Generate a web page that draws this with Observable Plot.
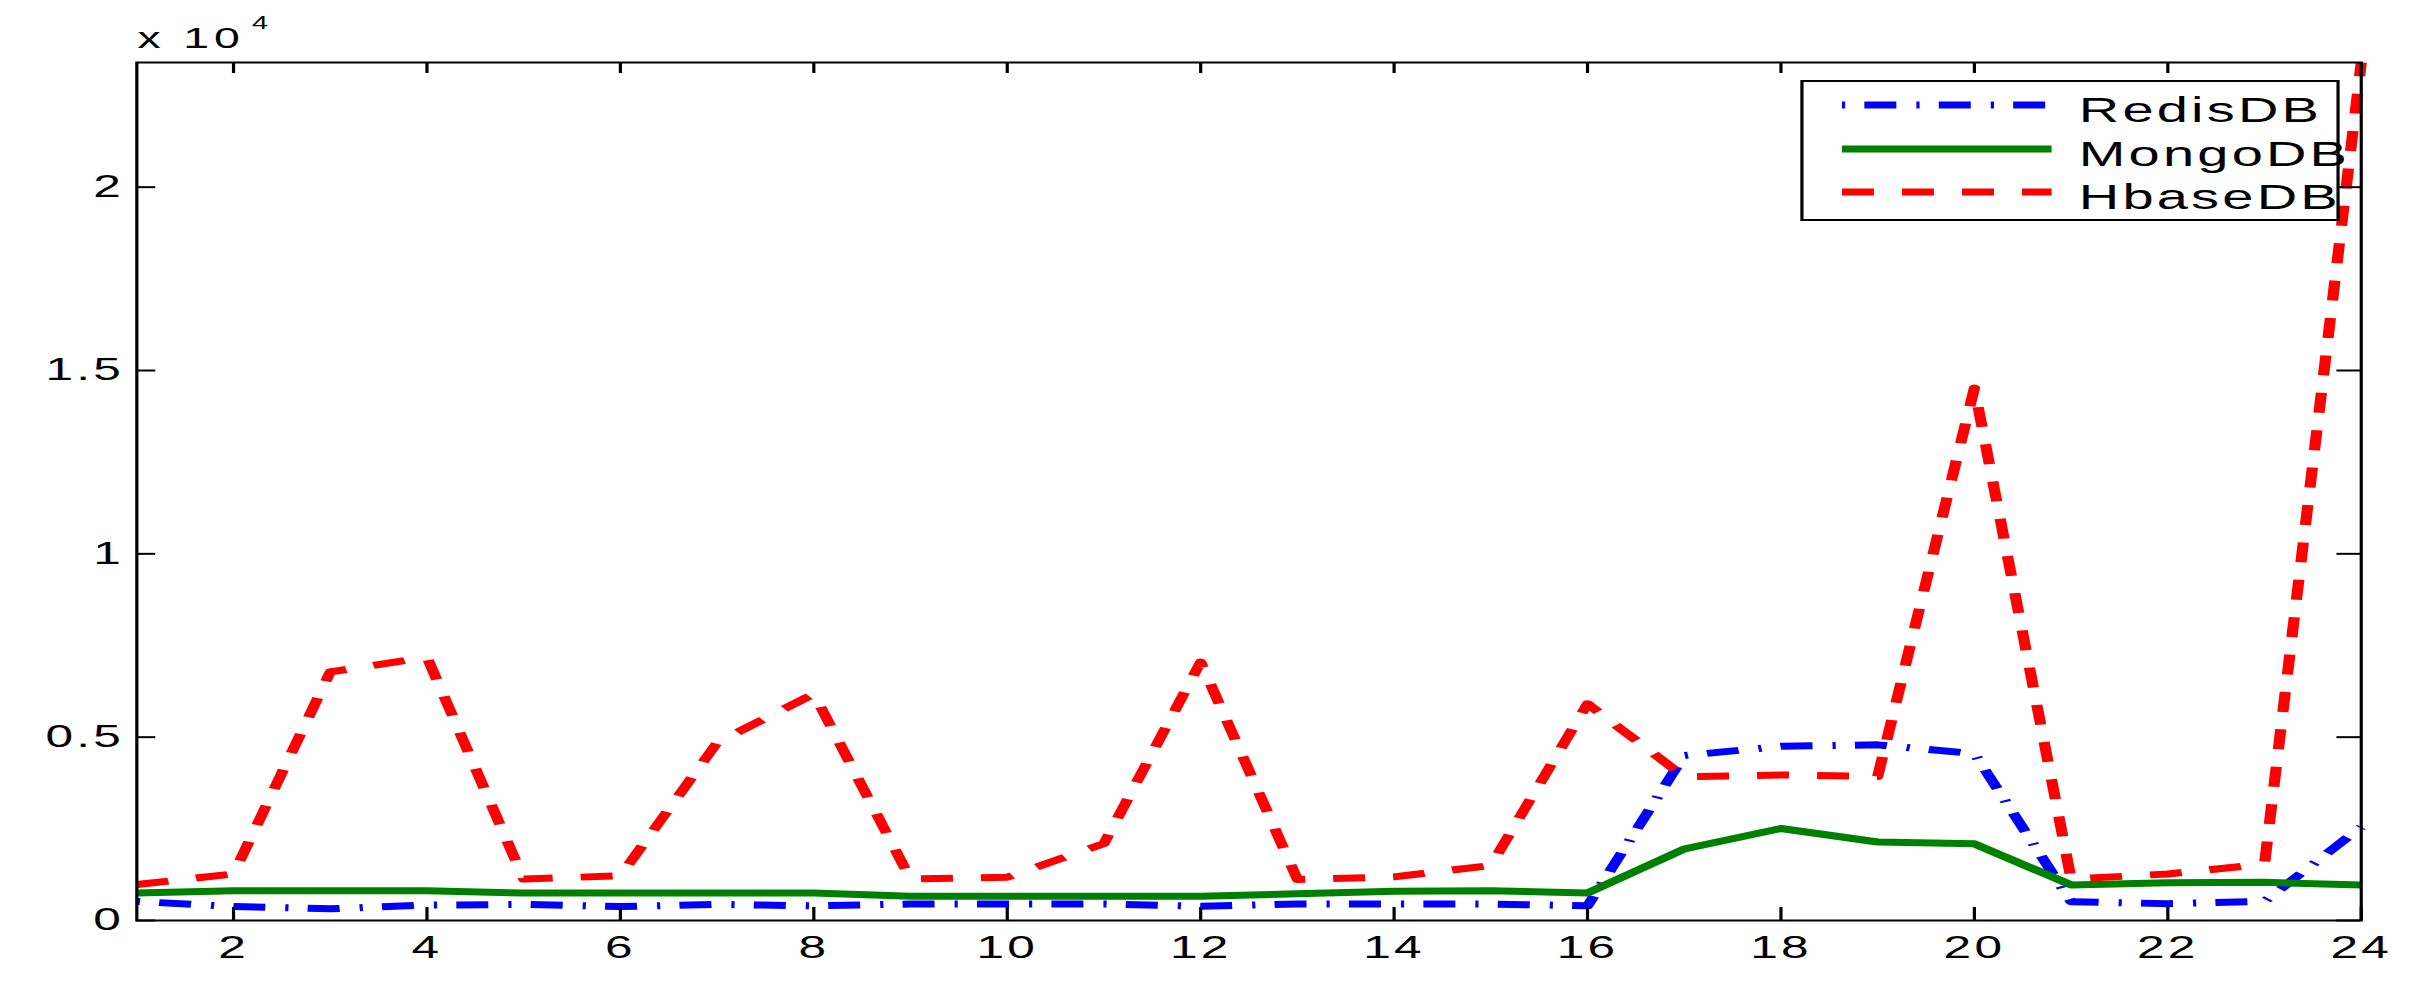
<!DOCTYPE html>
<html>
<head>
<meta charset="utf-8">
<script src="https://cdn.jsdelivr.net/npm/d3@7"></script>
<script src="https://cdn.jsdelivr.net/npm/@observablehq/plot@0.6"></script>
<style>
  html, body { margin: 0; padding: 0; background: #fff; overflow: hidden; }
  #wrap { position: relative; width: 1511px; height: 995px; transform: scaleX(1.6003); transform-origin: 0 0; }
  #wrap > svg.overlay { position: absolute; left: 0; top: 0; pointer-events: none; }
  #wrap svg [aria-label^="y-axis tick label"] text,
  #wrap svg [aria-label^="x-axis tick label"] text { letter-spacing: 2px; }
</style>
</head>
<body>
<div id="wrap"></div>
<script>
// ---- data ----
const xValues = [1, 2, 3, 4, 5, 6, 7, 8, 9, 10, 11, 12, 13, 14, 15, 16, 17, 18, 19, 20, 21, 22, 23, 24];
const seriesNames = ["RedisDB", "MongoDB", "HbaseDB"];
const redisValues = [520, 380, 320, 420, 440, 380, 440, 400, 450, 450, 450, 390, 450, 450, 450, 400, 4500, 4750, 4790, 4550, 510, 460, 520, 2550];
const mongoValues = [750, 810, 810, 810, 750, 750, 750, 750, 660, 660, 660, 660, 730, 800, 810, 750, 1950, 2510, 2140, 2090, 970, 1030, 1040, 970];
const hbaseValues = [980, 1270, 6780, 7180, 1130, 1220, 4850, 6180, 1130, 1180, 2100, 7050, 1120, 1190, 1500, 5910, 3920, 3970, 3930, 14520, 1130, 1270, 1540, 23400];
const xTicks = [2, 4, 6, 8, 10, 12, 14, 16, 18, 20, 22, 24];
const yTicks = [0, 5000, 10000, 15000, 20000];
const yTickLabels = ["0", "0.5", "1", "1.5", "2"];
const yDomain = [0, 23400];
const exponentBase = "x 10";
const exponentPower = "4";

// ---- styles ----
const seriesColors = ["#0000ff", "#008000", "#ff0000"];
const seriesDash = ["2,12,20,12.5", null, "20,17.5"];
const font = "'Liberation Sans', Arial, Helvetica, sans-serif";

const W = 1511, H = 995;
const valueLists = [redisValues, mongoValues, hbaseValues];
const xMin = xValues[0], xMax = xValues[xValues.length - 1];

const lineMarks = valueLists.map((vals, k) => Plot.lineY(vals, {
  x: (d, i) => xValues[i],
  y: d => d,
  stroke: seriesColors[k],
  strokeWidth: 7,
  strokeDasharray: seriesDash[k] || undefined,
  strokeLinecap: "butt",
  strokeLinejoin: "round"
}));

const chart = Plot.plot({
  width: W,
  height: H,
  marginLeft: 85,
  marginRight: 36,
  marginTop: 62,
  marginBottom: 75,
  x: { type: "linear", domain: [xMin, xMax] },
  y: { type: "linear", domain: yDomain },
  style: { fontFamily: font, fontSize: "31px", color: "#000", background: "#fff" },
  marks: [
    ...lineMarks,
    Plot.frame({ stroke: "#000", strokeWidth: 2 }),
    // inward ticks
    Plot.ruleY(yTicks, { y: d => d, x1: xMin, x2: xMin, insetRight: -12, stroke: "#000", strokeWidth: 2 }),
    Plot.ruleY(yTicks, { y: d => d, x1: xMax, x2: xMax, insetLeft: -15, stroke: "#000", strokeWidth: 2 }),
    Plot.ruleX(xTicks, { x: d => d, y1: yDomain[0], y2: yDomain[0], insetTop: -13, stroke: "#000", strokeWidth: 2 }),
    Plot.ruleX(xTicks, { x: d => d, y1: yDomain[1], y2: yDomain[1], insetBottom: -11, stroke: "#000", strokeWidth: 2 }),
    Plot.axisX(xTicks, { tickSize: 0, tickPadding: 15, fontSize: 31, label: null, fill: "#000" }),
    Plot.axisY(yTicks, { tickSize: 0, tickPadding: 8, fontSize: 31, label: null, fill: "#000",
      tickFormat: d => yTickLabels[yTicks.indexOf(d)] })
  ]
});

const wrap = document.getElementById("wrap");
wrap.appendChild(chart);

// ---- overlay: exponent label and legend ----
const ov = d3.select(wrap).append("svg")
  .attr("class", "overlay")
  .attr("width", W).attr("height", H)
  .style("font-family", font);

ov.append("text").attr("x", 86).attr("y", 48.3)
  .attr("font-size", 29).attr("letter-spacing", 3).attr("fill", "#000")
  .text(exponentBase);
ov.append("text").attr("x", 157.5).attr("y", 29.3)
  .attr("font-size", 18).attr("fill", "#000")
  .text(exponentPower);

const lg = ov.append("g").attr("transform", "translate(1126,81)");
lg.append("rect").attr("x", 0).attr("y", 0).attr("width", 335).attr("height", 139)
  .attr("fill", "#fff").attr("stroke", "#000").attr("stroke-width", 2);
const rowY = [24, 68, 111];
seriesNames.forEach((name, k) => {
  lg.append("line")
    .attr("x1", 25).attr("x2", 156).attr("y1", rowY[k]).attr("y2", rowY[k])
    .attr("stroke", seriesColors[k]).attr("stroke-width", 7)
    .attr("stroke-linecap", "butt")
    .attr("stroke-dasharray", seriesDash[k] || null);
  lg.append("text")
    .attr("x", 173).attr("y", rowY[k] + 17)
    .attr("font-size", 35).attr("letter-spacing", 2).attr("fill", "#000")
    .text(name);
});
</script>
</body>
</html>
